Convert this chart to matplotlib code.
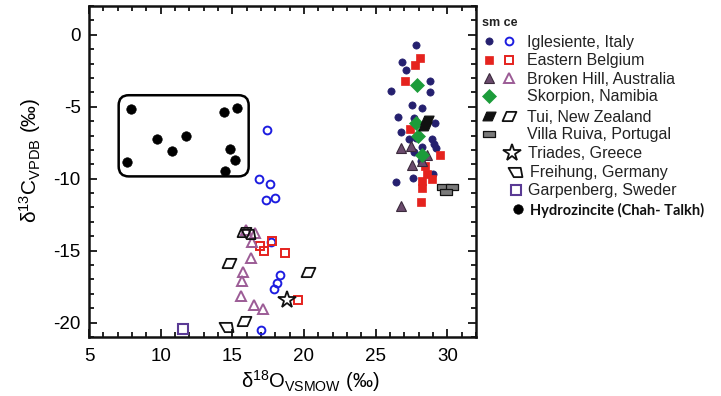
import matplotlib
matplotlib.use('Agg')
import matplotlib.pyplot as plt
from matplotlib.patches import FancyBboxPatch
from matplotlib.ticker import MultipleLocator
from matplotlib.path import Path

plt.rcParams['font.family'] = ['Liberation Sans', 'DejaVu Sans']
plt.rcParams['mathtext.fontset'] = 'custom'
plt.rcParams['mathtext.rm'] = 'Liberation Sans'
plt.rcParams['mathtext.it'] = 'Liberation Sans:italic'
plt.rcParams['mathtext.bf'] = 'Liberation Sans:bold'
plt.rcParams['axes.unicode_minus'] = False

# ---------------- data (delta18O VSMOW, delta13C VPDB) ----------------
igl_f_x = [27.78, 26.86, 27.14, 28.76, 28.78, 26.04, 27.55, 28.25, 26.55, 27.67, 29.11,
           26.79, 27.32, 27.78, 28.90, 29.06, 29.18, 28.20, 27.67, 28.13, 29.02, 27.62, 26.41]
igl_f_y = [-0.71, -1.86, -2.47, -3.21, -3.97, -3.90, -4.90, -5.10, -5.68, -5.75, -6.10,
           -6.75, -7.26, -7.14, -7.21, -7.60, -7.90, -7.79, -8.14, -8.76, -9.69, -9.97, -10.22]
igl_o_x = [17.44, 16.85, 17.60, 17.34, 18.01, 17.71, 18.31, 18.13, 17.90, 17.02]
igl_o_y = [-6.61, -10.03, -10.40, -11.51, -11.31, -14.43, -16.70, -17.28, -17.67, -20.52]

bel_f_x = [28.08, 27.74, 27.04, 27.43, 29.48, 28.43, 28.60, 28.90, 28.25, 28.25, 28.18]
bel_f_y = [-1.58, -2.12, -3.21, -6.56, -8.35, -9.11, -9.69, -9.99, -10.15, -10.68, -11.61]
bel_o_x = [17.74, 16.92, 17.20, 18.64, 19.57]
bel_o_y = [-14.32, -14.67, -15.01, -15.13, -18.42]

bh_f_x = [26.74, 27.48, 27.55, 28.60, 28.20, 26.74]
bh_f_y = [-7.90, -7.76, -9.06, -8.37, -8.76, -11.89]
bh_o_x = [15.92, 16.57, 16.39, 16.27, 15.73, 15.69, 15.57, 16.50, 17.13]
bh_o_y = [-13.55, -13.78, -14.43, -15.54, -16.51, -17.10, -18.17, -18.78, -19.06]

sko_x = [27.85, 27.78, 27.94, 28.25]
sko_y = [-3.51, -6.15, -7.03, -8.37]

tui_f_x = [28.55, 28.43]
tui_f_y = [-5.92, -6.33]
tui_o_x = [15.80, 14.76, 20.27, 15.80]
tui_o_y = [-13.70, -15.89, -16.51, -19.88]

vr_x = [29.72, 30.35, 29.88]
vr_y = [-10.57, -10.57, -10.89]

tri_x = [18.83]
tri_y = [-18.42]

fre_x = [16.10, 14.53]
fre_y = [-13.85, -20.33]

gar_x = [11.55]
gar_y = [-20.41]

hz_x = [7.90, 7.67, 9.76, 10.81, 11.80, 14.41, 15.34, 14.87, 15.22, 14.46]
hz_y = [-5.13, -8.81, -7.26, -8.11, -7.03, -5.40, -5.10, -7.95, -8.72, -9.46]

legend_labels = ['Iglesiente, Italy', 'Eastern Belgium', 'Broken Hill, Australia',
                 'Skorpion, Namibia', 'Tui, New Zealand', 'Villa Ruiva, Portugal',
                 'Triades, Greece', 'Freihung, Germany', 'Garpenberg, Sweder',
                 'Hydrozincite (Chah- Talkh)']
legend_header = 'sm ce'
x_ticks = [5, 10, 15, 20, 25, 30]
y_ticks = [0, -5, -10, -15, -20]

# ---------------- styles ----------------
NAVY = '#25206f'
BLUE = '#1d1de0'
RED = '#e5231e'
MAUVE_F = '#6a4a6c'
MAUVE_O = '#9c5c96'
GREEN = '#1c9c3a'
PURPLE = '#5a3a94'

para = Path([(-0.6, -0.4), (0.25, -0.4), (0.6, 0.4), (-0.25, 0.4), (-0.6, -0.4)],
            [Path.MOVETO, Path.LINETO, Path.LINETO, Path.LINETO, Path.CLOSEPOLY])
frei = Path([(-0.6, 0.4), (0.45, 0.4), (0.6, -0.4), (-0.15, -0.4), (-0.6, 0.4)],
            [Path.MOVETO, Path.LINETO, Path.LINETO, Path.LINETO, Path.CLOSEPOLY])
rect = Path([(-0.5, -0.22), (0.5, -0.22), (0.5, 0.22), (-0.5, 0.22), (-0.5, -0.22)],
            [Path.MOVETO, Path.LINETO, Path.LINETO, Path.LINETO, Path.CLOSEPOLY])

st = {
    'igl_f': dict(marker='o', ms=5.2, mfc=NAVY, mec=NAVY, mew=0.5),
    'igl_o': dict(marker='o', ms=5.6, mfc='none', mec=BLUE, mew=1.4),
    'bel_f': dict(marker='s', ms=5.4, mfc=RED, mec=RED, mew=0.5),
    'bel_o': dict(marker='s', ms=6.4, mfc='none', mec=RED, mew=1.4),
    'bh_f': dict(marker='^', ms=7.0, mfc=MAUVE_F, mec='#3a2a3c', mew=0.8),
    'bh_o': dict(marker='^', ms=7.0, mfc='none', mec=MAUVE_O, mew=1.4),
    'sko': dict(marker='D', ms=7.5, mfc=GREEN, mec=GREEN, mew=0.5),
    'tui_f': dict(marker=para, ms=9.5, mfc='#111111', mec='#111111', mew=0.8),
    'tui_o': dict(marker=para, ms=10, mfc='none', mec='#111111', mew=1.3),
    'vr': dict(marker=rect, ms=8.5, mfc='#7a7a7a', mec='#111111', mew=0.9),
    'tri': dict(marker='*', ms=13, mfc='none', mec='#111111', mew=1.3),
    'fre': dict(marker=frei, ms=10, mfc='none', mec='#111111', mew=1.3),
    'gar': dict(marker='s', ms=6.5, mfc='none', mec=PURPLE, mew=1.5),
    'hz': dict(marker='o', ms=6.8, mfc='black', mec='black', mew=0.5),
}

W, H = 721, 396
fig = plt.figure(figsize=(W / 100, H / 100), dpi=100)
ax = fig.add_axes([89 / W, 1 - 337 / H, (476 - 89) / W, (337 - 6) / H])

series = [
    (igl_f_x, igl_f_y, 'igl_f'), (igl_o_x, igl_o_y, 'igl_o'),
    (bel_f_x, bel_f_y, 'bel_f'), (bel_o_x, bel_o_y, 'bel_o'),
    (bh_f_x, bh_f_y, 'bh_f'), (bh_o_x, bh_o_y, 'bh_o'),
    (sko_x, sko_y, 'sko'), (tui_f_x, tui_f_y, 'tui_f'), (tui_o_x, tui_o_y, 'tui_o'),
    (vr_x, vr_y, 'vr'), (tri_x, tri_y, 'tri'), (fre_x, fre_y, 'fre'),
    (gar_x, gar_y, 'gar'), (hz_x, hz_y, 'hz'),
]
for xs, ys, key in series:
    ax.plot(xs, ys, ls='none', clip_on=False, **st[key])

# rounded box around the hydrozincite samples
bx0, bx1 = min(hz_x) - 0.6, max(hz_x) + 0.8
by0, by1 = min(hz_y) - 0.38, max(hz_y) + 0.9
ax.add_patch(FancyBboxPatch((bx0, by0), bx1 - bx0, by1 - by0,
                            boxstyle='round,pad=0,rounding_size=0.7',
                            fc='none', ec='black', lw=1.8, zorder=1))

ax.set_xlim(5, 32)
ax.set_ylim(-21, 2)
ax.set_xticks(x_ticks)
ax.set_yticks(y_ticks)
ax.xaxis.set_minor_locator(MultipleLocator(1))
ax.yaxis.set_minor_locator(MultipleLocator(1))
ax.tick_params(which='both', direction='in', top=True, right=True, width=1.2,
               labelsize=13.5, colors='black')
ax.tick_params(which='major', length=6)
ax.tick_params(which='minor', length=3.5)
ax.tick_params(axis='x', which='major', pad=8)
ax.tick_params(axis='y', which='major', pad=6)
for sp in ax.spines.values():
    sp.set_linewidth(1.8)
    sp.set_color('#111111')

ax.set_ylabel(r'δ$^{13}$C$_{\mathrm{VPDB}}$ (‰)', fontsize=15)
ax.yaxis.set_label_coords(-0.118, 0.535)
ax.set_xlabel(r'δ$^{18}$O$_{\mathrm{VSMOW}}$ (‰)', fontsize=14.5)
ax.xaxis.set_label_coords(0.571, -0.095)

# ---------------- legend (drawn in pixel space) ----------------
lax = fig.add_axes([0, 0, 1, 1])
lax.set_xlim(0, W)
lax.set_ylim(H, 0)
lax.axis('off')
lax.text(482, 23, legend_header, fontsize=9, fontweight='bold', va='center', ha='left',
         color='#222222')
rows = [
    ('igl_f', 'igl_o', 509, 527),
    ('bel_f', 'bel_o', 509, 527),
    ('bh_f', 'bh_o', 509, 527),
    ('sko', None, 509, 527),
    ('tui_f', 'tui_o', 509, 527),
    ('vr', None, 509, 527),
    (None, 'tri', 512, 528),
    (None, 'fre', 515, 530),
    (None, 'gar', 516, 528),
    (None, 'hz', 518, 530),
]
row_y = [42, 61, 79, 97, 117, 135, 154, 173, 191, 210]
for (fk, ok, ox, tx), yy, lab in zip(rows, row_y, legend_labels):
    if fk is not None:
        lax.plot([489], [yy - 1.5], ls='none', **st[fk])
    if ok is not None:
        lax.plot([ox], [yy - 1.5], ls='none', **st[ok])
    if lab.startswith('Hydro'):
        lax.text(tx, yy, lab, fontsize=10.5, fontweight='bold', va='center', ha='left',
                 family=['Lato', 'DejaVu Sans'], color='#111111')
    else:
        lax.text(tx, yy, lab, fontsize=11.5, va='center', ha='left', color='#222222')

fig.savefig('out.png', dpi=100)
